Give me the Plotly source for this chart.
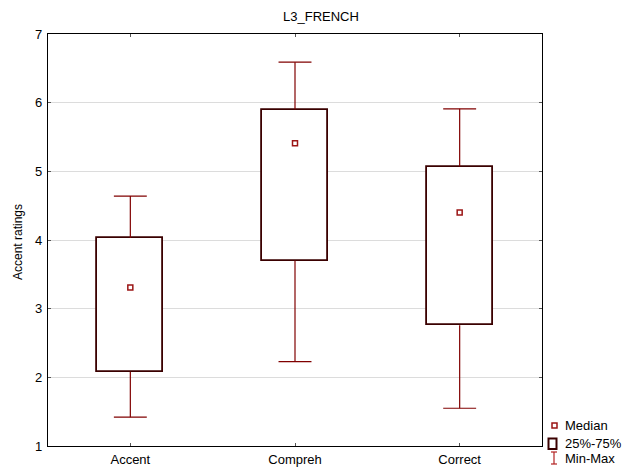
import plotly.graph_objects as go

# ---- data ----
categories = ["Accent", "Compreh", "Correct"]
minimum = [1.42, 2.23, 1.55]
q1 = [2.08, 3.70, 2.76]
median = [3.31, 5.41, 4.40]
q3 = [4.03, 5.90, 5.07]
maximum = [4.64, 6.59, 5.91]
y_ticks = [1, 2, 3, 4, 5, 6, 7]

title_text = "L3_FRENCH"
y_title = "Accent ratings"
legend_labels = ["Median", "25%-75%", "Min-Max"]

# ---- style ----
W, H = 625, 470
ML, MT = 48, 34
PW, PH = 494, 412
MR, MB = W - ML - PW, H - MT - PH
BOX_LINE = "#3a0000"
WHISK = "#800000"
MED = "#9b1515"
FONT = "Liberation Sans, Arial, sans-serif"
CAP = 0.1
BOXW = 0.4

# pixel -> paper coordinates
def px(xp):
    return (xp - ML) / PW

def py(yp):
    return (MT + PH - yp) / PH

xs = list(range(len(categories)))

fig = go.Figure()

# boxes (25%-75%)
fig.add_trace(go.Bar(
    x=xs, y=[b - a for a, b in zip(q1, q3)], base=q1, width=BOXW,
    marker=dict(color="white", line=dict(color=BOX_LINE, width=1.8)),
    showlegend=False, hoverinfo="skip"))

# whiskers (min-max)
wx, wy = [], []
for i in xs:
    wx += [i, i, None, i, i, None, i - CAP, i + CAP, None, i - CAP, i + CAP, None]
    wy += [q3[i], maximum[i], None, q1[i], minimum[i], None,
           maximum[i], maximum[i], None, minimum[i], minimum[i], None]
fig.add_trace(go.Scatter(x=wx, y=wy, mode="lines",
                         line=dict(color=WHISK, width=1.2),
                         showlegend=False, hoverinfo="skip"))

# medians
fig.add_trace(go.Scatter(x=xs, y=median, mode="markers",
                         marker=dict(symbol="square", size=5, color="white",
                                     line=dict(color=MED, width=1.5)),
                         showlegend=False))

fig.update_layout(
    width=W, height=H,
    margin=dict(l=ML, r=MR, t=MT, b=MB, pad=0, autoexpand=False),
    paper_bgcolor="white", plot_bgcolor="white",
    font=dict(family=FONT, size=13, color="black"),
    showlegend=False,
    bargap=0,
)
fig.update_xaxes(range=[-0.5, 2.5], tickvals=xs, ticktext=categories,
                 automargin=False,
                 showgrid=False, zeroline=False,
                 showline=True, linecolor="black", linewidth=1.2, mirror="ticks",
                 ticks="inside", ticklen=3, tickcolor="#555555",
                 ticklabelstandoff=1, tickfont=dict(size=13))
fig.update_yaxes(range=[1, 7], tickvals=y_ticks,
                 automargin=False,
                 showgrid=True, gridcolor="#dcdcdc", gridwidth=1, zeroline=False,
                 showline=True, linecolor="black", linewidth=1.2, mirror="ticks",
                 ticks="inside", ticklen=3, tickcolor="#555555",
                 ticklabelstandoff=2, tickfont=dict(size=13))

annotations = [
    dict(text=title_text, x=px(321), y=py(17), xref="paper", yref="paper",
         xanchor="center", yanchor="middle", showarrow=False,
         font=dict(size=13)),
    dict(text=y_title, x=px(18), y=py(242), xref="paper", yref="paper",
         xanchor="center", yanchor="middle", textangle=-90, showarrow=False,
         font=dict(size=12)),
]
for lbl, yc in zip(legend_labels, [425.7, 443.7, 458.3]):
    annotations.append(dict(text=lbl, x=px(563), y=py(yc), xref="paper", yref="paper",
                            xanchor="left", yanchor="middle", showarrow=False,
                            font=dict(size=13)))

shapes = [
    dict(type="rect", xref="paper", yref="paper",
         x0=px(552), x1=px(557), y0=py(428), y1=py(423),
         line=dict(color=MED, width=1.5), fillcolor="white"),
    dict(type="rect", xref="paper", yref="paper",
         x0=px(548.5), x1=px(556.5), y0=py(449), y1=py(438.5),
         line=dict(color=BOX_LINE, width=2), fillcolor="white"),
    dict(type="line", xref="paper", yref="paper",
         x0=px(554), x1=px(554), y0=py(452), y1=py(464),
         line=dict(color="#b22222", width=1.2)),
    dict(type="line", xref="paper", yref="paper",
         x0=px(551), x1=px(557), y0=py(452), y1=py(452),
         line=dict(color="#b22222", width=1.2)),
    dict(type="line", xref="paper", yref="paper",
         x0=px(551), x1=px(557), y0=py(464), y1=py(464),
         line=dict(color="#b22222", width=1.2)),
]
fig.update_layout(annotations=annotations, shapes=shapes)

fig.write_html("out.html",
               config={"displayModeBar": False},
               post_script="document.body.style.margin='0';"
                           "document.documentElement.style.overflow='hidden';")
